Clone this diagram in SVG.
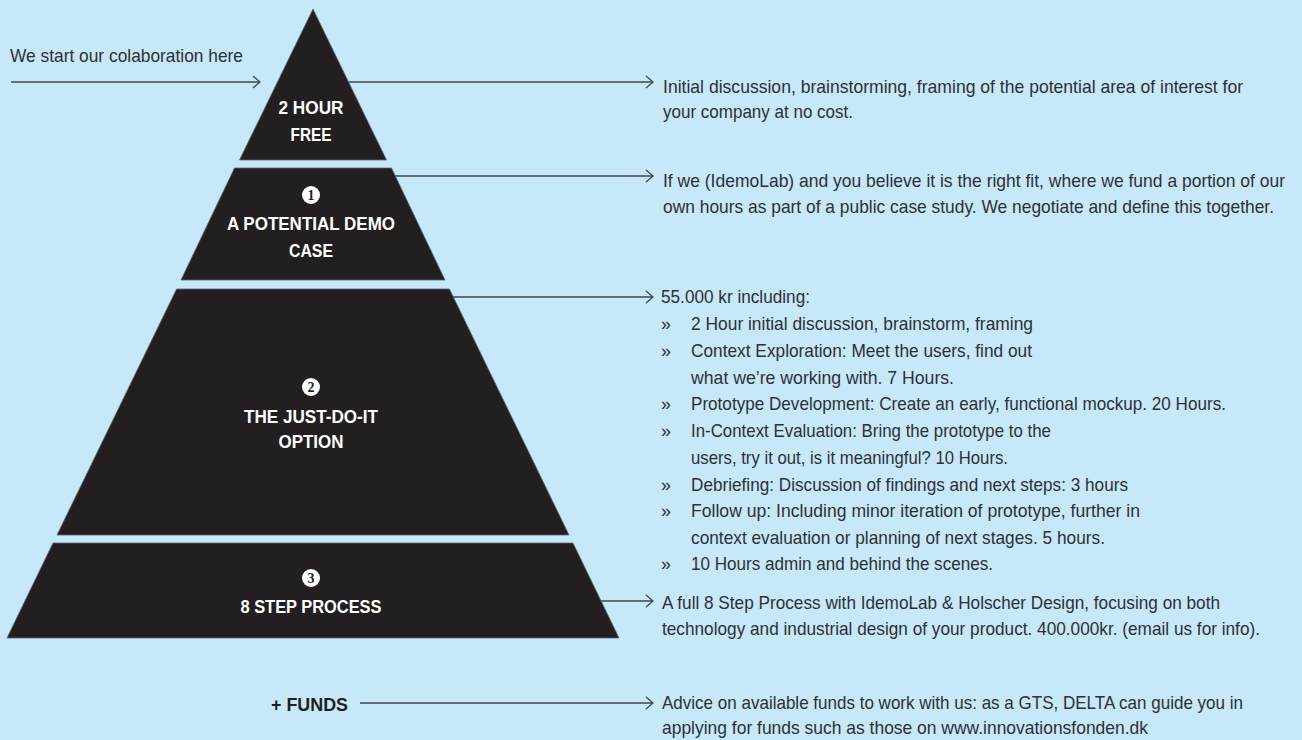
<svg xmlns="http://www.w3.org/2000/svg" width="1302" height="740" viewBox="0 0 1302 740">
<defs>
<style>
.bg{fill:#c6e8f8}
.shape{fill:#231f20;stroke:#5b666e;stroke-width:0.8;stroke-linejoin:round}
.conn{stroke:#3f474d;stroke-width:1.3;fill:none}
.body{font-family:"Liberation Sans Narrow","Liberation Sans",Arial,sans-serif;font-size:17.8px;fill:#2e3134}
.lbl{font-family:"Liberation Sans Narrow","Liberation Sans",Arial,sans-serif;font-size:18px;font-weight:bold;fill:#ffffff;text-anchor:middle}
.funds{font-family:"Liberation Sans Narrow","Liberation Sans",Arial,sans-serif;font-size:18px;font-weight:bold;fill:#231f20}
.num{fill:#ffffff}
.numt{font-family:"Liberation Serif","DejaVu Serif",serif;font-size:14px;font-weight:bold;fill:#231f20;text-anchor:middle}
</style>
<marker id="arr" markerUnits="userSpaceOnUse" markerWidth="10" markerHeight="14" refX="8" refY="7" orient="auto">
<path d="M1,1 L8,7 L1,13" fill="none" stroke="#3f474d" stroke-width="1.3"/>
</marker>
</defs>
<rect class="bg" x="0" y="0" width="1302" height="740"/>

<g id="connectors">
<line class="conn" x1="11" y1="82" x2="260" y2="82" marker-end="url(#arr)"/>
<line class="conn" x1="340" y1="82" x2="653" y2="82" marker-end="url(#arr)"/>
<line class="conn" x1="390" y1="176" x2="653" y2="176" marker-end="url(#arr)"/>
<line class="conn" x1="445" y1="297" x2="653" y2="297" marker-end="url(#arr)"/>
<line class="conn" x1="595" y1="601" x2="653" y2="601" marker-end="url(#arr)"/>
<line class="conn" x1="360" y1="703" x2="653" y2="703" marker-end="url(#arr)"/>
</g>

<g id="start-label">
<text class="body" x="10" y="62" textLength="233" lengthAdjust="spacingAndGlyphs">We start our colaboration here</text>
</g>

<g id="level-free">
<polygon class="shape" points="313,9 386.5,160 239.5,160"/>
<text class="lbl" x="311" y="114" textLength="65" lengthAdjust="spacingAndGlyphs">2 HOUR</text>
<text class="lbl" x="311" y="141" textLength="41" lengthAdjust="spacingAndGlyphs">FREE</text>
</g>

<g id="level-demo">
<polygon class="shape" points="234.5,168 391.5,168 445,280 181,280"/>
<circle class="num" cx="311" cy="195" r="9"/>
<text class="numt" x="311" y="200">1</text>
<text class="lbl" x="311" y="230" textLength="168" lengthAdjust="spacingAndGlyphs">A POTENTIAL DEMO</text>
<text class="lbl" x="311" y="257" textLength="44" lengthAdjust="spacingAndGlyphs">CASE</text>
</g>

<g id="level-justdoit">
<polygon class="shape" points="176.6,289 449.4,289 569,535 57,535"/>
<circle class="num" cx="311" cy="387" r="9"/>
<text class="numt" x="311" y="392">2</text>
<text class="lbl" x="311" y="423" textLength="134" lengthAdjust="spacingAndGlyphs">THE JUST-DO-IT</text>
<text class="lbl" x="311" y="448" textLength="65" lengthAdjust="spacingAndGlyphs">OPTION</text>
</g>

<g id="level-8step">
<polygon class="shape" points="53,543 573,543 619,638 7,638"/>
<circle class="num" cx="311" cy="578" r="9"/>
<text class="numt" x="311" y="583">3</text>
<text class="lbl" x="311" y="613" textLength="141" lengthAdjust="spacingAndGlyphs">8 STEP PROCESS</text>
</g>

<g id="funds">
<text class="funds" x="271" y="711" textLength="77" lengthAdjust="spacingAndGlyphs">+ FUNDS</text>
</g>

<g id="desc-free">
<text class="body" x="663" y="93" textLength="580" lengthAdjust="spacingAndGlyphs">Initial discussion, brainstorming, framing of the potential area of interest for</text>
<text class="body" x="663" y="118" textLength="190" lengthAdjust="spacingAndGlyphs">your company at no cost.</text>
</g>

<g id="desc-demo">
<text class="body" x="663" y="187" textLength="622" lengthAdjust="spacingAndGlyphs">If we (IdemoLab) and you believe it is the right fit, where we fund a portion of our</text>
<text class="body" x="663" y="213" textLength="611" lengthAdjust="spacingAndGlyphs">own hours as part of a public case study. We negotiate and define this together.</text>
</g>

<g id="desc-justdoit">
<text class="body" x="661" y="303" textLength="149" lengthAdjust="spacingAndGlyphs">55.000 kr including:</text>
<text class="body" x="661" y="330">»</text>
<text class="body" x="691" y="330" textLength="342" lengthAdjust="spacingAndGlyphs">2 Hour initial discussion, brainstorm, framing</text>
<text class="body" x="661" y="357">»</text>
<text class="body" x="691" y="357" textLength="341" lengthAdjust="spacingAndGlyphs">Context Exploration: Meet the users, find out</text>
<text class="body" x="691" y="383.5" textLength="263" lengthAdjust="spacingAndGlyphs">what we’re working with. 7 Hours.</text>
<text class="body" x="661" y="410">»</text>
<text class="body" x="691" y="410" textLength="535" lengthAdjust="spacingAndGlyphs">Prototype Development: Create an early, functional mockup. 20 Hours.</text>
<text class="body" x="661" y="437">»</text>
<text class="body" x="691" y="437" textLength="360" lengthAdjust="spacingAndGlyphs">In-Context Evaluation: Bring the prototype to the</text>
<text class="body" x="691" y="464" textLength="317" lengthAdjust="spacingAndGlyphs">users, try it out, is it meaningful? 10 Hours.</text>
<text class="body" x="661" y="490.5">»</text>
<text class="body" x="691" y="490.5" textLength="437" lengthAdjust="spacingAndGlyphs">Debriefing: Discussion of findings and next steps: 3 hours</text>
<text class="body" x="661" y="517">»</text>
<text class="body" x="691" y="517" textLength="449" lengthAdjust="spacingAndGlyphs">Follow up: Including minor iteration of prototype, further in</text>
<text class="body" x="691" y="544" textLength="414" lengthAdjust="spacingAndGlyphs">context evaluation or planning of next stages. 5 hours.</text>
<text class="body" x="661" y="570">»</text>
<text class="body" x="691" y="570" textLength="302" lengthAdjust="spacingAndGlyphs">10 Hours admin and behind the scenes.</text>
</g>

<g id="desc-8step">
<text class="body" x="662" y="609" textLength="558" lengthAdjust="spacingAndGlyphs">A full 8 Step Process with IdemoLab &amp; Holscher Design, focusing on both</text>
<text class="body" x="662" y="635" textLength="598" lengthAdjust="spacingAndGlyphs">technology and industrial design of your product. 400.000kr. (email us for info).</text>
</g>

<g id="desc-funds">
<text class="body" x="662" y="709" textLength="581" lengthAdjust="spacingAndGlyphs">Advice on available funds to work with us: as a GTS, DELTA can guide you in</text>
<text class="body" x="662" y="734" textLength="486" lengthAdjust="spacingAndGlyphs">applying for funds such as those on www.innovationsfonden.dk</text>
</g>
</svg>
